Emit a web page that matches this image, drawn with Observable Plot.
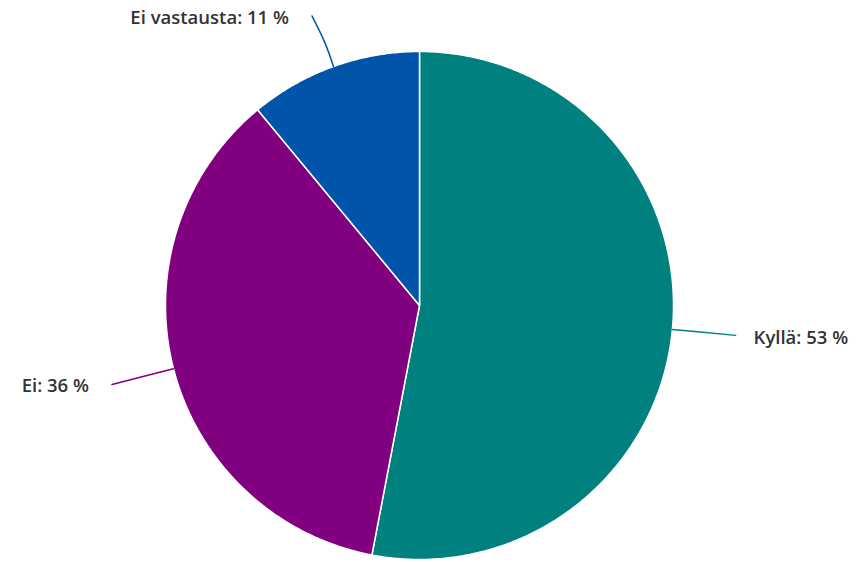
<!DOCTYPE html>
<html>
<head>
<meta charset="utf-8">
<script src="https://cdn.jsdelivr.net/npm/d3@7"></script>
<script src="https://cdn.jsdelivr.net/npm/@observablehq/plot@0.6"></script>
<style>
  html, body { margin: 0; padding: 0; background: #fff; }
  #chart svg { display: block; }
</style>
</head>
<body>
<div id="chart"></div>
<script>
const categories = ["Kyllä", "Ei", "Ei vastausta"];
const values = [53, 36, 11];
const colors = ["#00807f", "#800080", "#0055aa"];

const total = d3.sum(values);
const slices = [];
const connectors = [];
const labelPts = [];
let acc = 0;
categories.forEach((cat, i) => {
  const a0 = acc / total * 2 * Math.PI;
  acc += values[i];
  const a1 = acc / total * 2 * Math.PI;
  // polygon for slice (angles clockwise from top)
  slices.push({label: cat, x: 0, y: 0});
  const n = Math.max(2, Math.ceil((a1 - a0) / (Math.PI / 360)));
  for (let k = 0; k <= n; k++) {
    const a = a0 + (a1 - a0) * k / n;
    slices.push({label: cat, x: Math.sin(a), y: Math.cos(a)});
  }
  const m = (a0 + a1) / 2;
  const sx = Math.sin(m), sy = Math.cos(m);
  const ex = 1.25 * sx, ey = Math.min(1.25 * sy, 1.14);
  connectors.push({label: cat, x: sx, y: sy});
  connectors.push({label: cat, x: 1.1 * sx, y: Math.min(1.1 * sy, 1.12)});
  connectors.push({label: cat, x: ex, y: ey});
  labelPts.push({label: cat, text: `${cat}: ${values[i]} %`, x: ex, y: ey, right: sx >= 0});
});

const chart = Plot.plot({
  width: 858,
  height: 562,
  marginLeft: 165,
  marginRight: 185,
  marginTop: 51,
  marginBottom: 3,
  x: {domain: [-1, 1], axis: null},
  y: {domain: [-1, 1], axis: null},
  color: {domain: categories, range: colors},
  style: {fontFamily: "'Open Sans', sans-serif"},
  marks: [
    Plot.line(slices, {x: "x", y: "y", z: "label", fill: "label", stroke: "white", strokeWidth: 1.5, curve: "linear-closed"}),
    Plot.line(connectors, {x: "x", y: "y", z: "label", stroke: "label", strokeWidth: 1.5, curve: "natural"}),
    Plot.text(labelPts.filter(d => d.right), {x: "x", y: "y", text: "text", textAnchor: "start", dx: 18, dy: 3, fontSize: 18.5, fontWeight: 600, fill: "#333"}),
    Plot.text(labelPts.filter(d => !d.right), {x: "x", y: "y", text: "text", textAnchor: "end", dx: -23, dy: 2, fontSize: 18.5, fontWeight: 600, fill: "#333"})
  ]
});
document.getElementById("chart").appendChild(chart);
</script>
</body>
</html>
